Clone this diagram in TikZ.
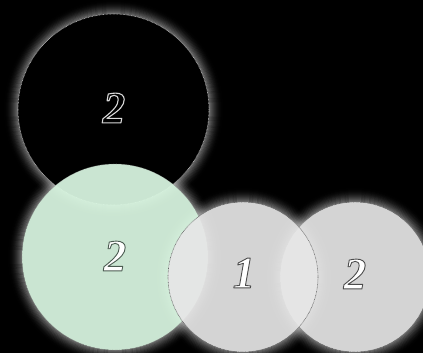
\documentclass[tikz,border=0pt]{standalone}
\usepackage{fontspec}
\setmainfont{Liberation Serif}
\usetikzlibrary{calc}
\newcommand\digitstroke[3]{\special{pdf:literal direct 2 Tr 1 j #1 RG #2 w}#3\special{pdf:literal direct 0 Tr}}
\begin{document}
\begin{tikzpicture}[x=1pt,y=-1pt,
  ringborder/.style={dash pattern=on 0.7pt off 0.7pt, line width=0.6pt},
  digit/.style={font=\fontsize{45}{45}\selectfont\bfseries\itshape, inner sep=0pt},
  ball/.style={circle, inner sep=0pt, outer sep=0pt}]
\fill[black] (0,0) rectangle (423,353);
\useasboundingbox (0,0) rectangle (423,353);
% glows
\foreach \cx/\cy/\r in {113.5/109.5/95.5, 115/257/93, 355/277/75, 243/277/75}{
  \foreach \k in {1,...,14}{
    \pgfmathsetmacro{\a}{0.45*(1-\k/15)^2}
    \fill[white, fill opacity=\a, even odd rule]
      (\cx,\cy) circle[radius=\r+\k] (\cx,\cy) circle[radius=\r+\k-1];
  }
}
% circles
\node[ball, minimum size=191pt, fill=black, draw=white!75!black, ringborder] (top) at (113.5,109.5) {};
\node[ball, minimum size=186pt, fill={rgb,255:red,218;green,247;blue,226}, fill opacity=0.93,
      draw=black!45, draw opacity=0.6, ringborder] (green) at (115,257) {};
\node[ball, minimum size=150pt, fill={rgb,255:red,231;green,231;blue,231}, fill opacity=0.92,
      draw=black!60, ringborder] (right) at (355,277) {};
\node[ball, minimum size=150pt, fill={rgb,255:red,231;green,231;blue,231}, fill opacity=0.92,
      draw=black!60, ringborder] (mid) at (243,277) {};
% digits
\node[digit, text=black] (ltop) at (114,108) {\digitstroke{0.85 0.85 0.85}{1.1}{2}};
\node[digit, text=white] (lgreen) at (115,256) {\digitstroke{0.30 0.36 0.32}{0.9}{2}};
\node[digit, text=white] (lmid) at (244,273) {\digitstroke{0.30 0.30 0.30}{0.9}{1}};
\node[digit, text=white] (lright) at (355,274) {\digitstroke{0.30 0.30 0.30}{0.9}{2}};
\end{tikzpicture}
\end{document}
